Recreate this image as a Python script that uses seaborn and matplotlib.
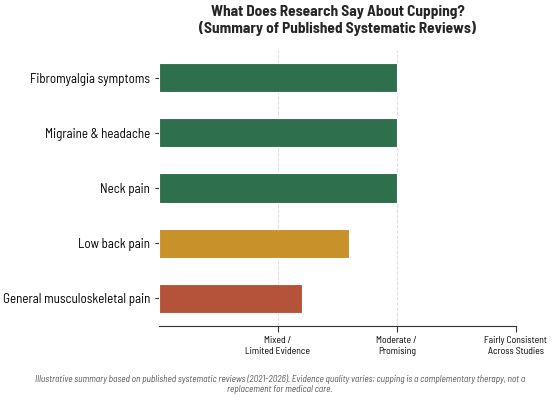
import matplotlib
matplotlib.use("Agg")
import matplotlib.pyplot as plt
import seaborn as sns
import pandas as pd

conditions = ["Fibromyalgia symptoms", "Migraine & headache", "Neck pain",
              "Low back pain", "General musculoskeletal pain"]
evidence = [2.0, 2.0, 2.0, 1.6, 1.2]
bar_colors = ["#2e6f4e", "#2e6f4e", "#2e6f4e", "#c8912a", "#b5533a"]
tick_vals = [1, 2, 3]
tick_labels = ["Mixed /\nLimited Evidence", "Moderate /\nPromising",
               "Fairly Consistent\nAcross Studies"]

sns.set_style("white")
# narrow lettering like the reference
plt.rcParams['font.family'] = ['Barlow Semi Condensed', 'DejaVu Sans']

df = pd.DataFrame({"condition": conditions, "evidence": evidence})

fig, ax = plt.subplots(figsize=(5.6, 4), dpi=100)
sns.barplot(data=df, x="evidence", y="condition", hue="condition",
            palette=bar_colors, saturation=1, legend=False, width=0.53, ax=ax,
            edgecolor="white", linewidth=0.8)

ax.set_xlim(0, 3)
ax.set_xticks(tick_vals)
ax.set_xticklabels(tick_labels, fontsize=8)
ax.tick_params(axis='y', left=True, length=3, colors='#333333', labelcolor='black')
ax.tick_params(axis='x', bottom=True, length=4, colors='#333333', labelcolor='black')
ax.xaxis.grid(True, linestyle='--', color='#dddddd', linewidth=0.7)
ax.set_axisbelow(True)
ax.set_xlabel("")
ax.set_ylabel("")
for s in ["top", "right", "left"]:
    ax.spines[s].set_visible(False)
ax.spines["bottom"].set_color("#333333")

title = ax.set_title("What Does Research Say About Cupping?\n(Summary of Published Systematic Reviews)",
                     fontsize=11, fontweight='bold', pad=12)

note = fig.text(0.5, 0.04,
                "Illustrative summary based on published systematic reviews (2021-2026). Evidence quality varies; "
                "cupping is a complementary therapy, not a\nreplacement for medical care.",
                ha='center', va='center', fontsize=6.5, style='italic', color='#555555')

plt.subplots_adjust(left=0.284, right=0.921, top=0.875, bottom=0.185)

# size the texts so their widths match the reference lettering
fig.canvas.draw()
renderer = fig.canvas.get_renderer()


def fit(texts, ref_text, target_px):
    for _ in range(2):
        w = ref_text.get_window_extent(renderer).width
        size = ref_text.get_fontsize() * target_px / w
        for t in texts:
            t.set_fontsize(size)


ylabs = ax.get_yticklabels()
xlabs = ax.get_xticklabels()
fit(ylabs, ylabs[0], 120)
fit(xlabs, xlabs[2], 63)
fit([title], title, 276)
fit([note], note, 493)

plt.savefig("out.png", dpi=100)
plt.close('all')
